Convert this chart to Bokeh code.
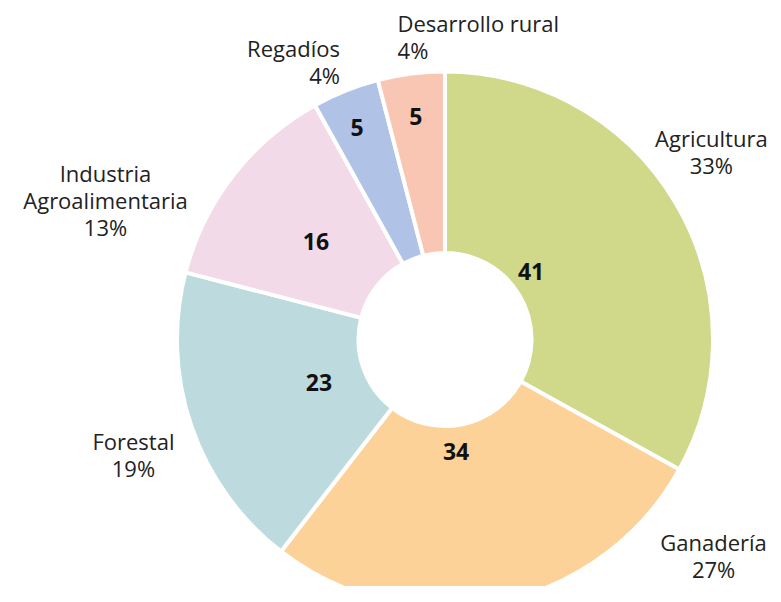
import math
from bokeh.plotting import figure
from bokeh.models import Range1d, ColumnDataSource
from bokeh.core.properties import value
from bokeh.embed import file_html
from bokeh.resources import INLINE

# ---- data ----
categories = ["Agricultura", "Ganadería", "Forestal", "Industria\nAgroalimentaria", "Regadíos", "Desarrollo rural"]
values = [41, 34, 23, 16, 5, 5]
colors = ["#D0D88A", "#FCD299", "#BDDBDE", "#F2DAE8", "#B0C3E6", "#F8C6B2"]

# ---- layout (styling / placement parameters) ----
W, H = 773, 586
CX, CY = 444.5, 263.0          # ring centre in data (pixel) units
R_OUT, R_IN = 268.0, 86.5
# value labels: (angle offset from slice middle in degrees, radius)
num_pos = [(7.8, 109.6), (-6.0, 113.0), (-0.1, 133.1), (0.4, 162.3), (0.8, 229.1), (0.2, 225.4)]
# outer labels: (angle in degrees, radius, align)
lab_pos = [(35.2, 326.0, "center"), (-38.8, 344.6, "center"), (-159.7, 332.2, "center"),
           (157.6, 367.2, "center"), (110.7, 297.2, "right"), (98.9, 306.7, "left")]

total = sum(values)
starts, ends, mids = [], [], []
acc = 0.0
for v in values:
    a0 = math.pi / 2 - 2 * math.pi * acc / total
    acc += v
    a1 = math.pi / 2 - 2 * math.pi * acc / total
    starts.append(a0)
    ends.append(a1)
    mids.append((a0 + a1) / 2)

pcts = [f"{round(100 * v / total)}%" for v in values]

p = figure(width=W, height=H, output_backend="svg", toolbar_location=None,
           x_range=Range1d(0, W), y_range=Range1d(602 - H, 602),
           min_border=0, outline_line_color=None)
p.axis.visible = False
p.grid.visible = False
p.background_fill_color = "white"
p.border_fill_color = "white"

src = ColumnDataSource(dict(x=[CX] * len(values), y=[CY] * len(values),
                            start=starts, end=ends, color=colors))
p.annular_wedge(x="x", y="y", inner_radius=R_IN, outer_radius=R_OUT,
                start_angle="start", end_angle="end", direction="clock",
                fill_color="color", line_color="white", line_width=4, source=src)

# value labels
nx, ny = [], []
for m, (da, r) in zip(mids, num_pos):
    a = m + math.radians(da)
    nx.append(CX + r * math.cos(a))
    ny.append(CY + r * math.sin(a))
p.text(x=nx, y=ny, text=[str(v) for v in values], text_font=value("Open Sans"),
       text_font_style="bold", text_font_size="23px", text_color="#111111",
       text_align="center", text_baseline="middle")

# outer labels
for cat, pc, (ang, r, al) in zip(categories, pcts, lab_pos):
    a = math.radians(ang)
    p.text(x=[CX + r * math.cos(a)], y=[CY + r * math.sin(a)], text=[cat + "\n" + pc],
           text_font=value("Open Sans"), text_font_size="22px", text_color="#222222",
           text_align=al, text_baseline="middle", text_line_height=0.9)

open("out.html", "w").write(file_html(p, INLINE))
